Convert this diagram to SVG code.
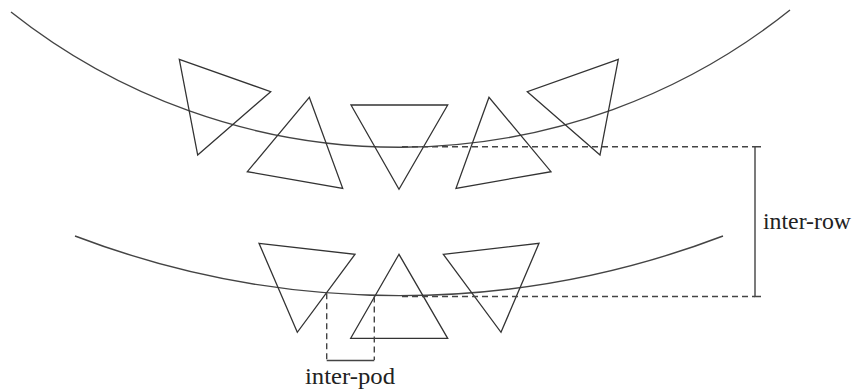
<svg xmlns="http://www.w3.org/2000/svg" width="853" height="391" viewBox="0 0 853 391">
<style>
.ln{fill:none;stroke:#444;stroke-width:1.4;stroke-linejoin:miter}
.tri{fill:none;stroke:#333;stroke-width:1.3;stroke-linejoin:miter}
.dash{fill:none;stroke:#444;stroke-width:1.4;stroke-dasharray:6 4}
.lbl{font-family:"Liberation Serif","DejaVu Serif",serif;font-size:23px;fill:#222}
</style>
<rect width="853" height="391" fill="#fff"/>
<g id="rows">
<path id="row-top" class="ln" d="M11,12 A625,625 0 0 0 790,10"/>
<path id="row-bottom" class="ln" d="M75,236 A910,910 0 0 0 723,236"/>
</g>
<g id="pod-t1"><polygon class="tri" points="179.3,59.3 270.7,91.7 197.7,155"/></g>
<g id="pod-t2"><polygon class="tri" points="309.3,97.3 247.3,171.7 342.7,188.3"/></g>
<g id="pod-t3"><polygon class="tri" points="351,105 447.7,105 399,189.3"/></g>
<g id="pod-t4"><polygon class="tri" points="489,97.3 456,188.3 551,171.7"/></g>
<g id="pod-t5"><polygon class="tri" points="618.3,59.3 527.3,91.7 600,155"/></g>
<g id="pod-b1"><polygon class="tri" points="259,243.3 355,254.3 297.3,332.3"/></g>
<g id="pod-b2"><polygon class="tri" points="399,254.3 350.7,338.3 447.7,338.3"/></g>
<g id="pod-b3"><polygon class="tri" points="443.3,254.3 539,243.3 501,332.3"/></g>
<g id="connectors">
<path class="dash" d="M402,146.7 H755"/>
<path class="dash" d="M402,296.5 H755"/>
<path class="ln" d="M761,146.7 H755 V296.5 H761"/>
<path class="dash" d="M326.7,293.3 V360"/>
<path class="dash" d="M374.3,296.5 V360"/>
<path class="ln" d="M326.7,360.5 H374.3"/>
</g>
<g id="labels">
<text class="lbl" x="763" y="229" textLength="88" lengthAdjust="spacingAndGlyphs">inter-row</text>
<text class="lbl" x="305" y="384" textLength="90" lengthAdjust="spacingAndGlyphs">inter-pod</text>
</g>
</svg>
